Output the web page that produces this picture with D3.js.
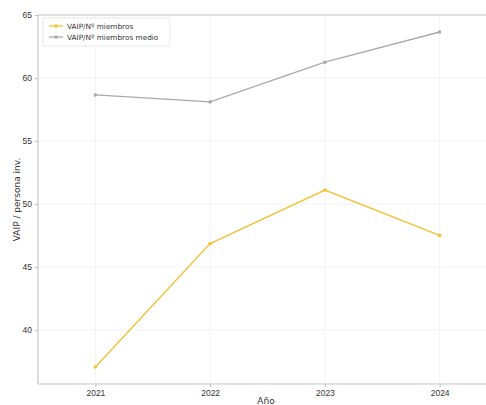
<!DOCTYPE html>
<html><head><meta charset="utf-8">
<script src="https://cdn.jsdelivr.net/npm/d3@7"></script>
<style>body{margin:0;background:#fff;} svg{display:block;font-family:"DejaVu Sans",sans-serif;}</style>
</head><body>
<svg id="c" width="486" height="405"></svg>
<script>
const years = [2021, 2022, 2023, 2024];
const vaipMiembros = [37.05, 46.85, 51.1, 47.5];
const vaipMiembrosMedio = [58.65, 58.1, 61.25, 63.65];
const yTicks = [40, 45, 50, 55, 60, 65];
const seriesNames = ["VAIP/Nº miembros", "VAIP/Nº miembros medio"];
const seriesColors = ["#f1c232", "#aaaaaa"];

const svg = d3.select("#c");
const L = 38, T = 15, R = 497, B = 384;
const x = d3.scaleLinear().domain([2020.5, 2024.5]).range([L, R]);
const y = d3.scaleLinear().domain([35.7, 65]).range([B, T]);

// grid
svg.append("g").selectAll("line").data(yTicks).join("line")
  .attr("x1", L).attr("x2", R).attr("y1", d => y(d)).attr("y2", d => y(d))
  .attr("stroke", "#f0f0f0").attr("stroke-width", 0.8);
svg.append("g").selectAll("line").data(years).join("line")
  .attr("y1", T).attr("y2", B).attr("x1", d => x(d)).attr("x2", d => x(d))
  .attr("stroke", "#f0f0f0").attr("stroke-width", 0.8);

// axes
const xAxis = svg.append("g").attr("transform", `translate(0,${B})`)
  .call(d3.axisBottom(x).tickValues(years).tickFormat(d3.format("d")).tickSize(3).tickPadding(3));
const yAxis = svg.append("g").attr("transform", `translate(${L},0)`)
  .call(d3.axisLeft(y).tickValues(yTicks).tickSize(3).tickPadding(3));
[xAxis, yAxis].forEach(g => {
  g.select(".domain").remove();
  g.selectAll(".tick line").attr("stroke", "#bbb");
  g.selectAll("text").attr("fill", "#333").style("font-size", "8.5px");
});
// spines (left, top, bottom)
const sp = svg.append("g").attr("stroke", "#c8c8c8").attr("stroke-width", 1.2);
sp.append("line").attr("x1", L).attr("x2", L).attr("y1", T).attr("y2", B);
sp.append("line").attr("x1", L).attr("x2", R).attr("y1", T).attr("y2", T);
sp.append("line").attr("x1", L).attr("x2", R).attr("y1", B).attr("y2", B);

// lines
const line = d3.line().x((d, i) => x(years[i])).y(d => y(d));
[vaipMiembros, vaipMiembrosMedio].forEach((vals, k) => {
  svg.append("path").datum(vals).attr("d", line).attr("fill", "none")
    .attr("stroke", seriesColors[k]).attr("stroke-width", 1.3);
  svg.append("g").selectAll("circle").data(vals).join("circle")
    .attr("cx", (d, i) => x(years[i])).attr("cy", d => y(d)).attr("r", 1.8)
    .attr("fill", seriesColors[k]);
});

// labels
svg.append("text").attr("x", 266).attr("y", 404).attr("text-anchor", "middle")
  .style("font-size", "9px").attr("fill", "#333").text("Año");
svg.append("text").attr("transform", `translate(20,${(T + B) / 2}) rotate(-90)`)
  .attr("text-anchor", "middle").style("font-size", "9px").attr("fill", "#333").text("VAIP / persona inv.");

// legend
const lg = svg.append("g").attr("transform", "translate(43,18)");
lg.append("rect").attr("width", 127).attr("height", 28).attr("rx", 2)
  .attr("fill", "#fff").attr("fill-opacity", 0.8).attr("stroke", "#e6e6e6");
seriesNames.forEach((n, k) => {
  const yy = 8 + k * 11;
  lg.append("line").attr("x1", 6).attr("x2", 20).attr("y1", yy).attr("y2", yy)
    .attr("stroke", seriesColors[k]).attr("stroke-width", 1.3);
  lg.append("circle").attr("cx", 13).attr("cy", yy).attr("r", 1.8).attr("fill", seriesColors[k]);
  lg.append("text").attr("x", 24).attr("y", yy + 3).style("font-size", "7.3px").attr("fill", "#333").text(n);
});
</script>
</body></html>
